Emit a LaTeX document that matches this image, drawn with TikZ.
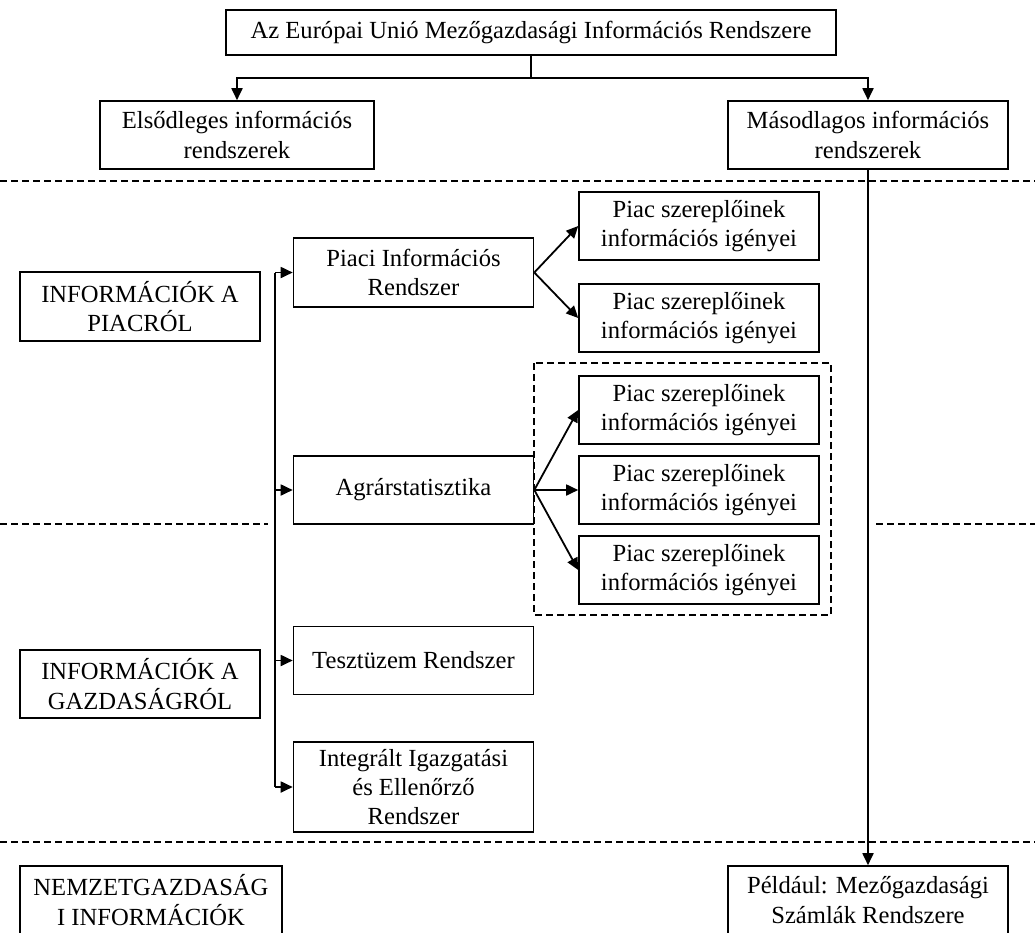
\documentclass[tikz,border=0pt]{standalone}
\usepackage{fontspec}
\setmainfont{Liberation Serif}
\usetikzlibrary{arrows.meta}
\tikzset{
  box/.style={draw, line width=0.8pt, fill=white, align=center, inner sep=2pt,
    font=\fontsize{12.3}{14.6}\selectfont, minimum width=120pt, minimum height=34pt},
  arr/.style={-{Triangle[length=6pt,width=5.5pt]}, line width=0.9pt},
  sep/.style={dash pattern=on 3.5pt off 2pt, line width=0.6pt},
}
\begin{document}
\begin{tikzpicture}[x=0.5pt,y=-0.5pt]
      \useasboundingbox (0,0) rectangle (1035,933);
      \clip (0,0) rectangle (1035,933);
      \draw[sep] (0,181) -- (1035,181);
      \draw[sep] (0,524) -- (268,524);
      \draw[sep] (876,524) -- (1035,524);
      \draw[sep] (0,842) -- (1035,842);
      \draw[sep] (534,363) rectangle (831,615);
      \draw
        (531,32.5) node[box, minimum width=305pt, minimum height=22.5pt] (eu) {Az Európai Unió Mezőgazdasági Információs Rendszere}
        (237,135) node[box, minimum width=137pt] (elso) {Elsődleges információs\\rendszerek}
        (868,135) node[box, minimum width=140pt] (maso) {Másodlagos információs\\rendszerek}
        (140,306.5) node[box, minimum height=34.5pt] (piacrol) {INFORMÁCIÓK A\\PIACRÓL}
        (140,684) node[box] (gazdrol) {INFORMÁCIÓK A\\GAZDASÁGRÓL}
        (151,900) node[box, minimum width=131pt] (nemzet) {NEMZETGAZDASÁG\\I INFORMÁCIÓK}
        (868,900) node[box, minimum width=140pt] (pelda) {Például: Mezőgazdasági\\Számlák Rendszere}
        (413.5,272.5) node[box, minimum height=34.5pt] (pir) {Piaci Információs\\Rendszer}
        (413.5,490) node[box] (agrar) {Agrárstatisztika}
        (413.5,660.5) node[box] (teszt) {Tesztüzem Rendszer}
        (413.5,787) node[box, minimum height=45pt] (iier) {Integrált Igazgatási\\és Ellenőrző\\Rendszer}
        (699,226) node[box] (igeny1) {Piac szereplőinek\\információs igényei}
        (699,318) node[box] (igeny2) {Piac szereplőinek\\információs igényei}
        (699,410) node[box] (igeny3) {Piac szereplőinek\\információs igényei}
        (699,490) node[box] (igeny4) {Piac szereplőinek\\információs igényei}
        (699,570) node[box] (igeny5) {Piac szereplőinek\\információs igényei};
      \coordinate (fork) at (531,78);
      \coordinate (bus) at (275,0);
      \begin{scope}[arr]
        \draw[-] (eu) to (fork);
        \draw (fork) -| (elso);
        \draw (fork) -| (maso);
        \draw (maso) to (pelda);
        \draw[-] (pir.west -| bus) to (iier.west -| bus);
        \draw (pir.west -| bus) to (pir);
        \draw (agrar.west -| bus) to (agrar);
        \draw (teszt.west -| bus) to (teszt);
        \draw (iier.west -| bus) to (iier);
        \draw (pir.east) to (igeny1.west);
        \draw (pir.east) to (igeny2.west);
        \draw (agrar.east) to (igeny3.west);
        \draw (agrar.east) to (igeny4.west);
        \draw (agrar.east) to (igeny5.west);
      \end{scope}
    \end{tikzpicture}
\end{document}
